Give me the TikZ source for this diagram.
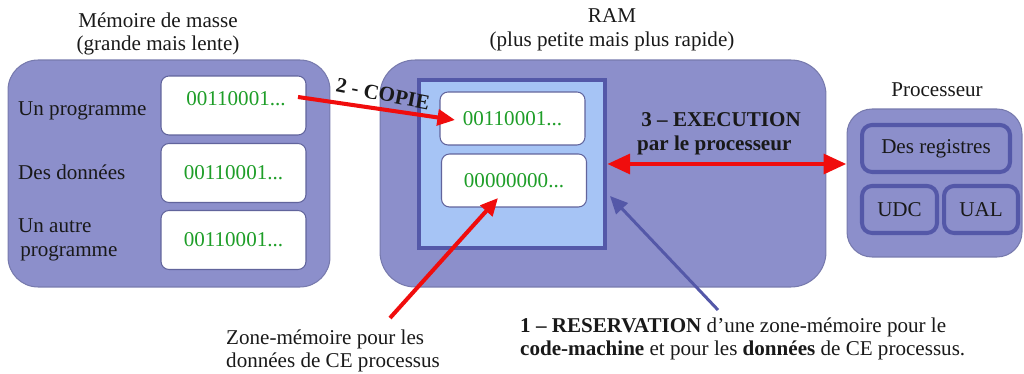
\documentclass[tikz,border=0pt]{standalone}
\usepackage{fontspec}
\setmainfont{Liberation Serif}
\usetikzlibrary{arrows.meta}
\definecolor{mauve}{HTML}{8C8FCB}
\definecolor{mauvedark}{HTML}{5458A8}
\definecolor{ciel}{HTML}{A6C4F5}
\definecolor{vertbits}{HTML}{1E9E28}
\definecolor{rouge}{HTML}{F00D0D}
\begin{document}
\begin{tikzpicture}[x=0.02cm,y=-0.02cm,
  every node/.style={font=\fontsize{12}{13.5}\selectfont,text=black!90},
  bloc/.style={draw=mauve!85!black,fill=mauve,line width=0.6pt,rounded corners=#1},
  case/.style={draw=mauvedark!70!gray,fill=white,line width=0.6pt,rounded corners=0.16cm,
    minimum width=2.9cm,minimum height=#1,text=vertbits},
  unite/.style={draw=mauvedark,fill=mauve,line width=2.3pt,rounded corners=0.2cm,minimum height=0.94cm},
  fleche/.style={draw=rouge,line width=2.3pt,-{Triangle[length=10pt,width=9pt]}}]
\useasboundingbox (0,0) rectangle (1024,374);

\node[align=center] (tmasse) at (158,34) {Mémoire de masse\\(grande mais lente)};
\node[bloc=0.6cm,minimum width=6.44cm,minimum height=4.54cm] (masse) at (169,173.5) {};
\node[case=1.18cm] (prog1) at (233.5,105.5) {};
\node[text=vertbits] (bits1) at (236,99) {00110001...};
\node[case=1.18cm] (data1) at (233.5,173) {00110001...};
\node[case=1.18cm] (prog2) at (233.5,240) {00110001...};
\node[anchor=west] (lprog1) at (12,111) {Un programme};
\node[anchor=west] (ldata1) at (12,172) {Des données};
\node[anchor=west,align=left] (lprog2) at (12,240) {Un autre\\\hspace{0.1em}programme};

\node[align=center] (tram) at (612,30) {RAM\\(plus petite mais plus rapide)};
\node[bloc=0.7cm,minimum width=8.92cm,minimum height=4.54cm] (ram) at (603,173.5) {};
\node[draw=mauvedark,fill=ciel,line width=2.5pt,minimum width=3.72cm,minimum height=3.36cm] (zone) at (512,164) {};
\node[case=1.06cm] (code) at (512.5,118.5) {00110001...};
\node[case=1.06cm] (vide) at (514,180.5) {00000000...};

\node (tcpu) at (937,90) {Processeur};
\node[bloc=0.5cm,minimum width=3.5cm,minimum height=2.96cm] (cpu) at (934.5,183) {};
\node[unite,minimum width=2.96cm] (reg) at (936,148.5) {Des registres};
\node[unite,minimum width=1.5cm] (udc) at (899.5,209.5) {UDC};
\node[unite,minimum width=1.48cm] (ual) at (981,209.5) {UAL};

\coordinate (copieA) at (298,97);
\coordinate (copieB) at (455,120);
\draw[fleche] (copieA) -- (copieB);
\node[font=\bfseries\fontsize{12}{13.5}\selectfont,rotate=-11] (lcopie) at (383,94) {2 - COPIE};

\draw[draw=rouge,line width=2.8pt,{Triangle[length=13pt,width=11pt]}-{Triangle[length=13pt,width=11pt]}]
  (zone.east) -- (zone.east -| cpu.west);
\node[anchor=west,align=left,font=\bfseries\fontsize{12}{13.5}\selectfont] (lexec) at (631,134)
  {\hspace{0.2em}3 – EXECUTION\\par le processeur};

\node[anchor=west,align=left] (lzone) at (220,351) {Zone-mémoire pour les\\données de CE processus};
\coordinate (zoneA) at (390,318);
\coordinate (zoneB) at (498,198);
\draw[fleche] (zoneA) -- (zoneB);

\node[anchor=west,align=left] (lres) at (514,339)
  {\textbf{1 – RESERVATION} d’une zone-mémoire pour le\\\textbf{code-machine} et pour les \textbf{données} de CE processus.};
\coordinate (resA) at (718,310);
\coordinate (resB) at (610,196);
\draw[draw=mauvedark,line width=1.7pt,-{Triangle[length=10pt,width=9pt]}] (resA) -- (resB);
\end{tikzpicture}
\end{document}
